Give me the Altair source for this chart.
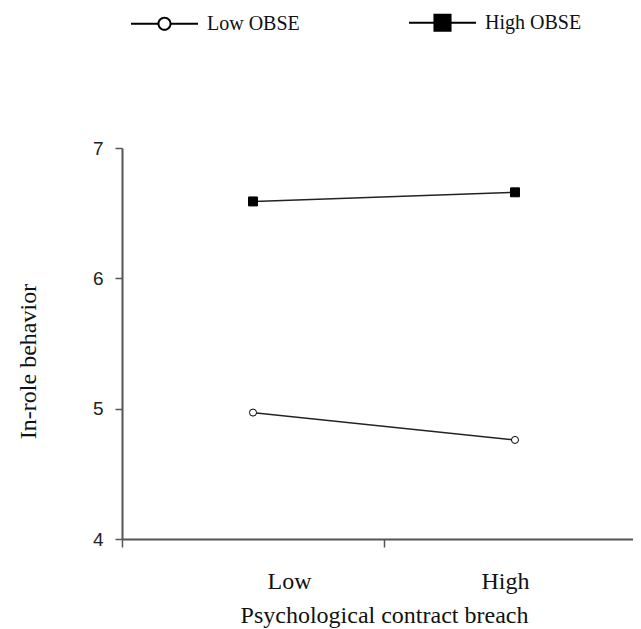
import altair as alt
import pandas as pd

breach = ["Low", "High"]
series_names = ["Low OBSE", "High OBSE"]
low_obse = [4.97, 4.76]
high_obse = [6.59, 6.66]
y_ticks = [4, 5, 6, 7]

rows = []
for i, b in enumerate(breach):
    rows.append({"breach": b, "series": "Low OBSE", "value": low_obse[i]})
    rows.append({"breach": b, "series": "High OBSE", "value": high_obse[i]})
df = pd.DataFrame(rows)

serif = "Liberation Serif"
sans = "Liberation Sans"

x_enc = alt.X(
    "breach:N",
    sort=breach,
    bandPosition=0.5,
    scale=alt.Scale(type="band", domain=breach, paddingInner=0, paddingOuter=0),
    axis=alt.Axis(
        title="Psychological contract breach",
        titleFont=serif, titleFontSize=24, titleFontWeight="normal", titleColor="#111",
        titlePadding=10,
        labelFont=serif, labelFontSize=24, labelColor="#111", labelAngle=0,
        labelPadding=22,
        labelAlign=alt.ConditionalAxisLabelAlign(
            condition={"test": "datum.value == 'Low'", "value": "left"}, value="right"
        ),
        labelOffset=14,
        tickBand="extent", tickSize=8, tickColor="#555", tickWidth=1.5,
        domainColor="#555", domainWidth=2, grid=False,
    ),
)
y_enc = alt.Y(
    "value:Q",
    scale=alt.Scale(domain=[4, 7], nice=False, zero=False),
    axis=alt.Axis(
        values=y_ticks, format="d",
        title="In-role behavior",
        titleFont=serif, titleFontSize=24, titleFontWeight="normal", titleColor="#111",
        titleAngle=270, titleX=-94, titleY=213, titleAlign="center", titleBaseline="middle",
        labelFont=sans, labelFontSize=19, labelColor="#222", labelPadding=12,
        tickSize=7, tickColor="#555", tickWidth=1.5,
        domainColor="#555", domainWidth=2, grid=False,
    ),
)

base = alt.Chart(df)

lines = base.mark_line(color="#222", strokeWidth=1.5).encode(
    x=x_enc, y=y_enc, detail="series:N"
)

low_points = base.transform_filter("datum.series == 'Low OBSE'").mark_point(
    shape="circle", filled=True, fill="white", stroke="black", strokeWidth=1, size=50, opacity=1
).encode(x=x_enc, y=y_enc)

high_points = base.transform_filter("datum.series == 'High OBSE'").mark_point(
    shape="square", filled=True, fill="black", stroke="black", strokeWidth=1, size=80, opacity=1
).encode(x=x_enc, y=y_enc)

# legend glyphs drawn as filled outlines (line stubs + marker)
low_path = (
    "M -1 -0.03 L -0.2 -0.03 L -0.2 0.03 L -1 0.03 Z "
    "M 0.2 -0.03 L 1 -0.03 L 1 0.03 L 0.2 0.03 Z "
    "M -0.21 0 A 0.21 0.21 0 1 1 0.21 0 A 0.21 0.21 0 1 1 -0.21 0 Z "
    "M -0.15 0 A 0.15 0.15 0 1 0 0.15 0 A 0.15 0.15 0 1 0 -0.15 0 Z"
)
high_path = (
    "M -1 -0.03 L 1 -0.03 L 1 0.03 L -1 0.03 Z "
    "M -0.27 -0.27 L 0.27 -0.27 L 0.27 0.27 L -0.27 0.27 Z"
)

legend_layer = base.transform_filter("false").mark_point(
    filled=True, color="black", size=4489, opacity=1
).encode(
    x=x_enc, y=y_enc,
    shape=alt.Shape(
        "series:N",
        scale=alt.Scale(domain=series_names, range=[low_path, high_path]),
        legend=alt.Legend(
            title=None, orient="none", legendX=8, legendY=-160,
            direction="horizontal",
            labelFont=serif, labelFontSize=20, labelColor="#111",
            labelOffset=8, columnPadding=106,
            symbolSize=4489, symbolOpacity=1,
            symbolFillColor="black",
        ),
    ),
)

chart = alt.layer(lines, low_points, high_points, legend_layer).properties(
    width=524, height=391,
    autosize=alt.AutoSizeParams(type="none"),
    padding={"left": 114, "top": 140, "right": -13, "bottom": 90},
).configure_view(stroke=None)

chart.save("out.html", embed_options={"renderer": "svg", "actions": False})
